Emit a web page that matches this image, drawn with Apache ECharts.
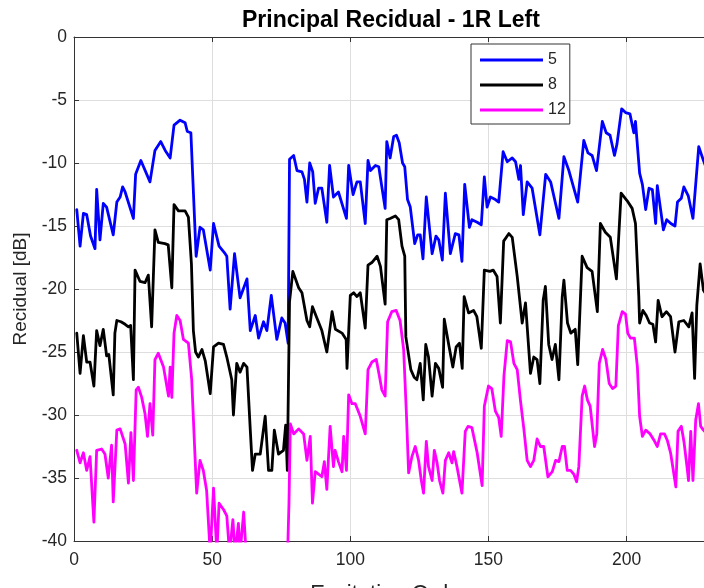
<!DOCTYPE html>
<html>
<head>
<meta charset="utf-8">
<script src="https://cdn.jsdelivr.net/npm/echarts@6/dist/echarts.min.js"></script>
<style>
html,body{margin:0;padding:0;background:#fff;}
#chart{width:704px;height:588px;}
</style>
</head>
<body>
<div id="chart"></div>
<script>
// Tick labels
const xTicks = [0, 50, 100, 150, 200];
const yTicks = [0, -5, -10, -15, -20, -25, -30, -35, -40];
const seriesNames = ['5', '8', '12'];

// Order 5 (blue)
const order5 = [[1,-13.7],[2.2,-16.6],[3.4,-14.0],[4.6,-14.1],[6,-15.8],[7.6,-16.8],[8.2,-12.1],[9.4,-16.1],[10.6,-13.2],[11.8,-13.5],[14.2,-15.7],[15.5,-13.1],[16.7,-12.7],[17.6,-11.9],[18.5,-12.3],[21.5,-14.4],[22.3,-10.9],[24.2,-9.8],[27.5,-11.5],[29.3,-9.0],[31.4,-8.3],[33,-9.0],[34.8,-9.6],[36.2,-7.0],[38.4,-6.6],[40.2,-6.8],[41,-7.5],[42.3,-7.6],[44.2,-17.4],[45.6,-15.1],[46.8,-15.3],[49.3,-18.5],[50.5,-14.8],[52.5,-16.6],[54.7,-17.2],[55.3,-17.4],[56.5,-21.6],[58.1,-17.2],[60.1,-20.7],[62.6,-19.2],[63.8,-23.3],[65.6,-22.1],[66.8,-23.9],[68.6,-22.6],[69.8,-23.3],[71.4,-20.5],[73.4,-24.0],[75.2,-22.3],[76.4,-22.7],[77.5,-24.3],[78,-9.7],[79.5,-9.4],[80.7,-10.6],[82.5,-10.7],[83.4,-11.3],[84.3,-13.1],[85.3,-10.0],[86.4,-10.7],[87.3,-13.2],[88.5,-12.0],[89.7,-12.0],[91.5,-14.7],[92.5,-10.2],[93.9,-12.7],[95.7,-12.3],[98.6,-14.4],[99.4,-10.2],[101,-12.5],[102.4,-11.5],[103.6,-11.5],[105.4,-14.8],[106.4,-9.8],[107.3,-10.6],[109.1,-10.2],[110.3,-10.3],[112.6,-13.6],[113.2,-8.3],[114.4,-9.6],[115.7,-7.9],[116.7,-7.8],[117.7,-8.4],[118.9,-10.0],[119.7,-10.3],[120.7,-12.9],[121.7,-13.5],[123.3,-16.4],[124.4,-15.7],[125.3,-15.7],[126.3,-17.6],[127.5,-12.7],[129.6,-17.2],[131.0,-15.8],[132.0,-16.1],[133.3,-17.7],[134.4,-12.4],[136.2,-17.2],[138.0,-15.6],[139.3,-15.7],[140.4,-17.8],[141.4,-11.7],[143.1,-15.1],[144.0,-14.5],[145.9,-14.7],[147.4,-14.9],[148.5,-11.1],[149.5,-13.5],[150.7,-12.7],[152.5,-12.9],[153.7,-13.1],[155.3,-9.1],[156.8,-9.9],[158.6,-9.6],[159.8,-9.9],[161,-11.3],[161.6,-10.2],[162.6,-14.1],[164.0,-11.5],[165.8,-12.0],[168.6,-15.7],[170.7,-10.9],[172.5,-11.5],[175.5,-14.4],[177.3,-9.5],[179.1,-10.6],[182.3,-13.1],[184.5,-8.2],[186.0,-9.2],[187.5,-9.4],[189.1,-10.6],[191.2,-6.7],[192.6,-7.6],[194,-7.8],[195.6,-9.4],[196.5,-8.5],[198.2,-5.7],[199.6,-6.0],[201.2,-6.1],[202.6,-7.6],[203.2,-6.7],[204.7,-10.8],[205.7,-11.7],[206.9,-13.7],[208.1,-12.0],[209.3,-12.1],[210.5,-14.8],[211.1,-11.8],[213.3,-15.3],[214.5,-14.5],[216,-14.8],[217.5,-15.0],[218.4,-13.1],[219.8,-12.8],[220.7,-11.9],[222.3,-12.6],[224.0,-14.4],[226.1,-8.7],[227.8,-9.8],[229,-10.5]];

// Order 8 (black)
const order8 = [[1,-23.5],[2.2,-26.7],[3.4,-23.7],[4.6,-25.8],[5.8,-25.8],[7.2,-27.7],[8.2,-23.3],[9.4,-24.5],[10.6,-23.2],[11.8,-25.3],[12.6,-25.2],[14.2,-28.4],[14.8,-23.5],[15.5,-22.5],[17.0,-22.6],[18.5,-22.8],[19.7,-23.0],[20.5,-22.9],[21.5,-27.2],[22.1,-18.5],[23.9,-19.4],[25.7,-19.5],[26.9,-18.9],[28.1,-23.0],[29.3,-15.3],[30.5,-16.3],[32.9,-16.4],[34.1,-16.5],[35.4,-19.9],[36.2,-13.3],[37.8,-13.8],[40.2,-13.8],[41.4,-14.3],[42.5,-18],[43.2,-23.3],[44,-25.0],[45,-25.4],[46.3,-24.8],[47.5,-25.7],[49.3,-28.3],[50.5,-24.6],[52.3,-24.3],[54.1,-24.4],[55.3,-25.4],[57.1,-27.2],[57.7,-30.0],[58.9,-25.9],[60.1,-26.6],[61.4,-25.9],[62.6,-26.2],[63.8,-31.2],[64.6,-34.4],[65.6,-33.1],[67.4,-33.1],[69.2,-30.1],[70.4,-34.4],[71.6,-34.4],[72.5,-31.2],[74,-33.1],[75.8,-32.8],[76.6,-30.8],[77.2,-34.4],[78,-21],[79.2,-18.6],[81.3,-19.9],[82.5,-20.3],[84.3,-22.5],[85.3,-23],[86.3,-21.4],[87.9,-22.3],[89.7,-23.3],[91.5,-25.0],[93.4,-21.8],[94.6,-23.2],[97,-23.5],[98.5,-24.0],[98.8,-26.3],[100,-20.5],[101.2,-20.3],[102.4,-20.6],[103.6,-20.3],[105.4,-23.1],[106.4,-18.1],[107.8,-17.9],[109.7,-17.4],[110.9,-18.2],[112.6,-21.2],[113.2,-14.5],[114.4,-14.4],[116.3,-14.2],[117.5,-14.5],[118.7,-16.6],[119.7,-17.4],[120.1,-23.8],[121.9,-26.4],[123.1,-27.0],[124.1,-27.2],[125.3,-25.9],[126.4,-28.8],[127.3,-24.4],[128.3,-25.4],[129.6,-28.5],[130.8,-25.9],[132.0,-26.3],[133.4,-27.8],[134.0,-22.4],[135.6,-24.4],[137.1,-26.2],[138.3,-24.6],[139.5,-24.3],[140.5,-26.3],[141.2,-20.6],[142.8,-21.9],[144.6,-21.7],[145.8,-22.2],[147.4,-24.7],[148.5,-18.5],[150.5,-18.6],[151.7,-18.5],[153.1,-19.0],[154.3,-22.7],[155.5,-16.2],[157.4,-15.6],[158.6,-15.9],[160.4,-19.0],[162.2,-22.7],[163.4,-21.1],[165.2,-26.7],[166.4,-25.4],[167.6,-25.6],[168.6,-27.5],[169.8,-20.9],[170.6,-19.8],[171.8,-24.4],[173,-25.6],[174.2,-24.4],[175.5,-27.2],[176.7,-20.6],[177.3,-19.3],[178.6,-22.7],[179.8,-23.5],[181.4,-23.2],[182.3,-26.0],[183.9,-17.4],[185.7,-18.3],[187.5,-18.6],[189.4,-21.8],[190.5,-14.8],[192.3,-15.5],[194.1,-15.9],[196.3,-19.2],[198.0,-12.4],[200.2,-13.0],[202.0,-13.6],[203.2,-14.8],[204.4,-20.6],[204.7,-22.7],[205.9,-21.7],[207.1,-22.1],[208.3,-22.7],[209.5,-22.8],[210.5,-24.2],[211.4,-20.9],[212.8,-22.2],[214.4,-21.8],[215.9,-22.2],[217.5,-25],[218.9,-22.6],[220.7,-22.5],[222.5,-23.0],[223.7,-21.9],[224.6,-27.1],[225.4,-21.3],[226.6,-18.0],[227.8,-20.1],[229,-20.5]];

// Order 12 (magenta)
const order12 = [[1,-32.8],[2.2,-33.8],[3.4,-33.0],[4.6,-34.4],[5.8,-33.3],[6.4,-33.4],[7.2,-38.5],[8.2,-32.8],[10,-32.7],[11.2,-33.1],[12.4,-35.0],[13.6,-32.4],[14.2,-36.9],[15.5,-31.2],[16.7,-31.1],[18.5,-32.3],[19.7,-35.4],[20.6,-31.4],[21.5,-35.2],[22.5,-28.0],[23.3,-27.8],[24.5,-28.6],[25.7,-29.9],[26.6,-31.7],[27.5,-29.1],[28.5,-31.6],[29.3,-25.6],[30.5,-25.1],[32.4,-26.2],[34.2,-28.5],[34.8,-26.2],[35.4,-28.6],[36.2,-23.5],[37.2,-22.1],[38.4,-22.5],[39.6,-24.0],[41.4,-24.3],[42.6,-27.2],[43.8,-33.3],[44.4,-36.2],[45.6,-33.6],[46.8,-34.4],[48,-36.0],[49.3,-41],[50.5,-35.8],[51.7,-41],[52.5,-37.0],[54.1,-37.5],[55.3,-38.0],[56.3,-41],[57.5,-38.3],[58.3,-41],[59.5,-38.6],[60.1,-41],[61.4,-37.7],[62.3,-41],[77.3,-41],[77.8,-37],[78.3,-30.7],[79.5,-31.5],[81.3,-31.1],[83.1,-31.5],[84.3,-33.6],[85.5,-31.7],[86.3,-37.0],[87.3,-34.5],[88.5,-34.7],[89.7,-34.9],[90.6,-33.7],[91.5,-35.9],[92.7,-30.9],[93.9,-34.1],[94.5,-32.8],[95.7,-33.7],[97,-34.5],[97.6,-31.7],[98.6,-34.4],[99.4,-28.4],[100.6,-29.1],[101.8,-29.1],[103.6,-30.1],[105.4,-31.5],[106.4,-26.4],[107.8,-25.8],[109.4,-25.6],[110.6,-27.0],[111.4,-28.0],[112.6,-28.5],[113.5,-22.6],[115.0,-21.8],[116.6,-21.7],[118.0,-22.5],[119.3,-24.8],[120.3,-29.9],[121.1,-34.6],[122.3,-33.3],[123.5,-32.5],[124.7,-33.6],[125.7,-35.2],[126.5,-36.2],[127.5,-32.1],[128.3,-34.1],[129.6,-35.2],[130.4,-32.8],[131.4,-33.8],[132.3,-35.2],[133.5,-36.2],[134.4,-33.6],[135.6,-33.0],[136.8,-33.8],[137.4,-32.9],[138.6,-34.1],[140.4,-36.2],[141.6,-31.3],[142.6,-30.9],[144,-31.0],[145.9,-33.0],[147.7,-35.6],[148.5,-29.3],[150.0,-27.7],[151.2,-27.9],[152.5,-29.7],[153.7,-30.2],[154.6,-31.7],[155.6,-26.9],[156.8,-24.1],[158.0,-24.2],[159.2,-25.9],[160.4,-26.4],[161.6,-28.9],[162.8,-31.1],[164,-33.6],[165.2,-34.1],[166.4,-33.6],[167.6,-31.9],[168.8,-32.5],[170,-32.5],[171.5,-34.9],[173.1,-34.5],[174.3,-33.6],[175.5,-33.7],[176.7,-32.5],[177.5,-32.5],[178.5,-34.4],[179.7,-34.4],[180.9,-34.7],[181.9,-35.3],[182.7,-34.1],[183.9,-28.5],[184.8,-27.7],[185.8,-28.8],[186.8,-29.3],[187.6,-30.9],[188.4,-32.5],[189.2,-31.5],[190.1,-25.9],[191.3,-24.8],[192.5,-25.6],[193.7,-27.5],[194.9,-27.9],[196.1,-27.7],[197,-22.9],[198.4,-21.8],[199.6,-22.0],[200.4,-23.5],[201.4,-23.9],[202.8,-23.9],[203.9,-26.2],[204.7,-30.1],[205.7,-31.7],[206.9,-31.2],[208.5,-31.5],[209.9,-32.0],[211.1,-32.5],[212.3,-31.5],[213.7,-31.5],[214.7,-32.0],[215.9,-33.0],[216.9,-34.4],[217.8,-35.7],[218.6,-31.3],[219.8,-30.9],[220.8,-32.2],[222.0,-34.4],[222.4,-35.2],[223.2,-31.3],[224.0,-35.2],[225,-30.4],[226,-29.1],[226.8,-30.9],[227.8,-31.2],[229,-31.5]];

const FONT = '"Liberation Sans", Arial, Helvetica, sans-serif';
const AXIS_COLOR = '#333333';
const TEXT_COLOR = '#262626';

const chart = echarts.init(document.getElementById('chart'), null, {renderer: 'canvas'});

function mkLine(name, data, color) {
  return {
    name: name, type: 'line', data: data,
    xAxisIndex: 0, yAxisIndex: 0,
    symbol: 'none', showSymbol: false, smooth: false,
    lineStyle: {color: color, width: 2.8, join: 'round', cap: 'round'},
    itemStyle: {color: color},
    clip: true, animation: false
  };
}

const option = {
  animation: false,
  backgroundColor: '#ffffff',
  title: {
    text: 'Principal Recidual - 1R Left',
    left: 242, top: 9,
    padding: 0,
    textStyle: {fontFamily: FONT, fontSize: 23, fontWeight: 'bold', color: '#000000'}
  },
  legend: {
    data: seriesNames,
    orient: 'vertical',
    left: 471, top: 44,
    padding: [8, 4, 6, 9],
    itemGap: 9,
    icon: 'rect',
    itemWidth: 63, itemHeight: 3,
    backgroundColor: '#ffffff',
    borderColor: AXIS_COLOR, borderWidth: 1,
    textStyle: {fontFamily: FONT, fontSize: 16, color: TEXT_COLOR, lineHeight: 16}
  },
  grid: {left: 74, top: 37, right: 0, bottom: 47, containLabel: false, outerBoundsMode: 'none'},
  xAxis: [{
    type: 'value', min: 0, max: 228, interval: 50, position: 'bottom',
    name: 'Excitation Order', nameLocation: 'middle', nameGap: 42,
    nameTextStyle: {fontFamily: FONT, fontSize: 22, color: TEXT_COLOR},
    axisLine: {show: true, onZero: false, lineStyle: {color: AXIS_COLOR, width: 1}},
    axisTick: {show: true, inside: true, length: 5, lineStyle: {color: AXIS_COLOR}},
    axisLabel: {
      show: true, margin: 10, showMaxLabel: false,
      fontFamily: FONT, fontSize: 17.5, color: TEXT_COLOR,
      formatter: function (v) { return xTicks.indexOf(v) >= 0 ? String(v) : ''; }
    },
    splitLine: {show: true, lineStyle: {color: '#dedede', width: 1}}
  }, {
    type: 'value', min: 0, max: 228, interval: 50, position: 'top',
    axisLine: {show: true, onZero: false, lineStyle: {color: AXIS_COLOR, width: 1}},
    axisTick: {show: true, inside: true, length: 5, lineStyle: {color: AXIS_COLOR}},
    axisLabel: {show: false},
    splitLine: {show: false}
  }],
  yAxis: [{
    type: 'value', min: -40, max: 0, interval: 5,
    name: 'Recidual [dB]', nameLocation: 'middle', nameGap: 44, nameRotate: 90,
    nameTextStyle: {fontFamily: FONT, fontSize: 19, color: TEXT_COLOR},
    axisLine: {show: true, onZero: false, lineStyle: {color: AXIS_COLOR, width: 1}},
    axisTick: {show: true, inside: true, length: 5, lineStyle: {color: AXIS_COLOR}},
    axisLabel: {
      show: true, margin: 7,
      fontFamily: FONT, fontSize: 17.5, color: TEXT_COLOR,
      formatter: function (v) { return yTicks.indexOf(v) >= 0 ? String(v) : ''; }
    },
    splitLine: {show: true, lineStyle: {color: '#dedede', width: 1}}
  }],
  series: [
    mkLine(seriesNames[0], order5, '#0000ff'),
    mkLine(seriesNames[1], order8, '#000000'),
    mkLine(seriesNames[2], order12, '#ff00ff')
  ]
};
chart.setOption(option);
</script>
</body>
</html>
